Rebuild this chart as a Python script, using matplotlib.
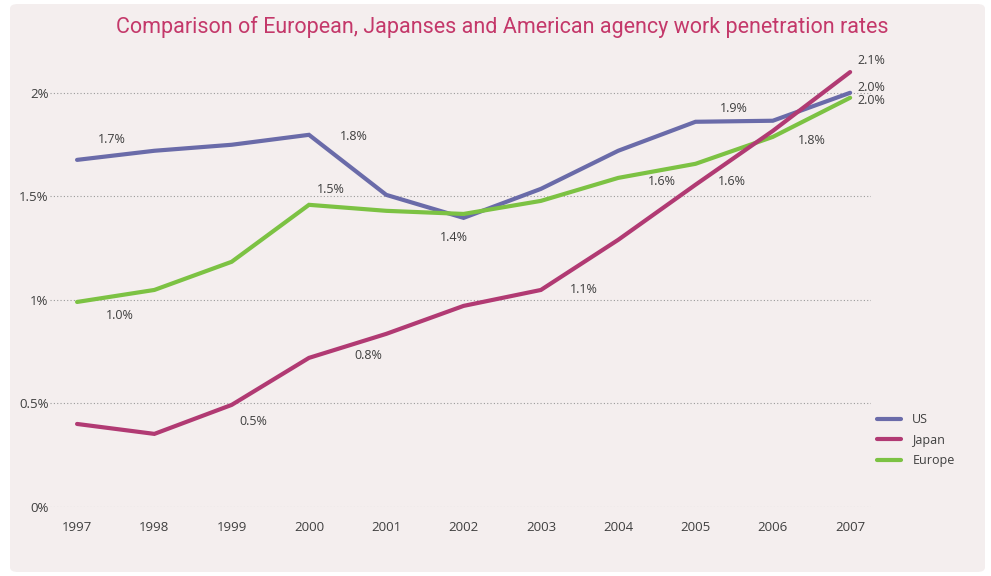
import matplotlib
matplotlib.use("Agg")
import matplotlib.pyplot as plt
from matplotlib.patches import FancyBboxPatch
from matplotlib.lines import Line2D
from matplotlib import font_manager

years = [1997, 1998, 1999, 2000, 2001, 2002, 2003, 2004, 2005, 2006, 2007]
us = [1.676, 1.72, 1.749, 1.797, 1.507, 1.396, 1.536, 1.72, 1.86, 1.865, 2.0]
japan = [0.401, 0.353, 0.493, 0.72, 0.836, 0.971, 1.048, 1.29, 1.556, 1.816, 2.10]
europe = [0.99, 1.048, 1.184, 1.459, 1.43, 1.415, 1.478, 1.589, 1.657, 1.787, 1.976]

yticks = [0, 0.5, 1.0, 1.5, 2.0]
ytick_labels = ["0%", "0.5%", "1%", "1.5%", "2%"]

# (text, x-year, y-value) for the value annotations
labels = [
    ("1.7%", 1997.45, 1.775), ("1.8%", 2000.58, 1.79), ("1.5%", 2000.28, 1.535),
    ("1.0%", 1997.55, 0.925), ("0.8%", 2000.77, 0.73), ("0.5%", 1999.28, 0.415),
    ("1.4%", 2001.88, 1.3), ("1.1%", 2003.55, 1.05), ("1.6%", 2004.57, 1.57),
    ("1.6%", 2005.47, 1.57), ("1.9%", 2005.5, 1.925), ("1.8%", 2006.5, 1.77),
    ("2.1%", 2007.28, 2.155), ("2.0%", 2007.28, 2.025), ("2.0%", 2007.28, 1.965),
]

c_us = "#6a6ba9"
c_jp = "#b13a73"
c_eu = "#7cc243"
txt = "#3f3f3f"

names = {f.name for f in font_manager.fontManager.ttflist}
base_font = "Open Sans" if "Open Sans" in names else "DejaVu Sans"
title_font = "Roboto" if "Roboto" in names else base_font
plt.rcParams["font.family"] = [base_font, "DejaVu Sans"]

fig = plt.figure(figsize=(9.91, 5.76), dpi=100, facecolor="white")
bg = FancyBboxPatch((10/991, 4/576), 975/991, 568/576,
                    boxstyle="round,pad=0,rounding_size=0.008",
                    transform=fig.transFigure, facecolor="#f4eeee",
                    edgecolor="none", zorder=-10)
fig.patches.append(bg)

ax = fig.add_axes([50/991, 69/576, 821/991, 466/576])
ax.set_zorder(1)
ax.set_facecolor("none")
ax.set_xlim(1996.65, 2007.27)
ax.set_ylim(0, 2.25)

for v in yticks:
    ax.axhline(v, color="#9a9a9a", lw=0.8, ls=(0, (1, 2)), zorder=1)

lw = 3.0
ax.plot(years, us, color=c_us, lw=lw, solid_capstyle="round", solid_joinstyle="miter", zorder=3)
ax.plot(years, europe, color=c_eu, lw=lw, solid_capstyle="round", solid_joinstyle="miter", zorder=3)
ax.plot(years, japan, color=c_jp, lw=lw, solid_capstyle="round", solid_joinstyle="miter", zorder=4)

for t, x, y in labels:
    ax.text(x, y, t, fontsize=9, color=txt, ha="center", va="center", zorder=5)

ax.set_yticks(yticks)
ax.set_yticklabels(ytick_labels)
ax.set_xticks(years)
ax.set_xticklabels([str(y) for y in years])
ax.tick_params(axis="both", length=0, labelsize=9.5, labelcolor=txt)
ax.tick_params(axis="y", pad=1)
ax.tick_params(axis="x", pad=10)
for s in ax.spines.values():
    s.set_visible(False)

handles = [Line2D([], [], color=c_us, lw=lw, solid_capstyle="round"),
           Line2D([], [], color=c_jp, lw=lw, solid_capstyle="round"),
           Line2D([], [], color=c_eu, lw=lw, solid_capstyle="round")]
fig.legend(handles, ["US", "Japan", "Europe"], loc="upper left",
           bbox_to_anchor=(866/991, 1 - 402/576), frameon=False, fontsize=9,
           labelcolor=txt, handlelength=1.9, handletextpad=0.9, labelspacing=0.6)

fig.text(0.507, 1 - 27/576, "Comparison of European, Japanses and American agency work penetration rates",
         ha="center", va="center", fontsize=15.5, color="#c4386a", family=title_font)

fig.savefig("out.png", dpi=100, facecolor="white")
